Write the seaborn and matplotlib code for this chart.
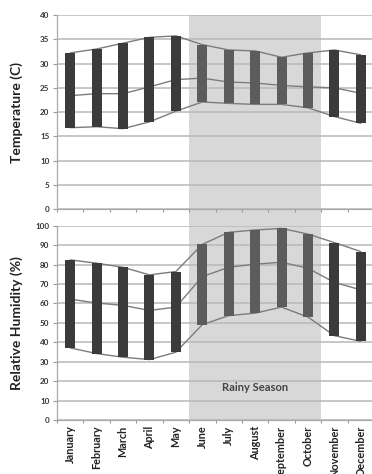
import numpy as np
import pandas as pd
import matplotlib
matplotlib.use("Agg")
import matplotlib.pyplot as plt
import matplotlib.transforms as mtransforms
from matplotlib.patches import Rectangle
import seaborn as sns

months = ["January", "February", "March", "April", "May", "June", "July",
          "August", "September", "October", "November", "December"]
rainy = [False, False, False, False, False, True, True, True, True, True, False, False]

temp_max = [32.2, 33.0, 34.2, 35.4, 35.7, 33.9, 32.8, 32.6, 31.3, 32.2, 32.8, 31.8]
temp_min = [16.8, 17.0, 16.6, 18.0, 20.2, 22.1, 21.8, 21.6, 21.6, 20.9, 19.1, 17.7]
temp_mean = [23.4, 23.8, 23.8, 25.2, 26.7, 27.0, 26.2, 26.0, 25.5, 25.2, 25.0, 23.9]

rh_max = [82.4, 80.7, 78.6, 74.7, 76.4, 90.4, 96.6, 97.8, 98.6, 95.7, 91.3, 86.7]
rh_min = [37.1, 34.2, 32.3, 31.1, 34.9, 49.1, 53.7, 55.0, 58.1, 53.0, 43.4, 40.5]
rh_mean = [62.2, 60.2, 59.0, 56.4, 58.1, 73.8, 78.6, 80.2, 81.2, 78.1, 70.8, 67.0]

temp_ticks = [0, 5, 10, 15, 20, 25, 30, 35, 40]
rh_ticks = [0, 10, 20, 30, 40, 50, 60, 70, 80, 90, 100]

sns.set_theme(style="white")
plt.rcParams["font.family"] = ["Lato", "DejaVu Sans"]

W, H = 372, 474
fig = plt.figure(figsize=(W / 100, H / 100), dpi=100)
left = 57 / W
width = 317 / W
ax1 = fig.add_axes([left, 1 - 209.3 / H, width, (209.3 - 15) / H])
ax2 = fig.add_axes([left, 1 - 420 / H, width, (420 - 225.7) / H])

DRY = "#3b3b3b"
WET = "#5c5c5c"
GRID = "#b8b8b8"
LINE = "#7c7c7c"
SHADE = "#d8d8d8"

pos = np.arange(len(months))
colors = [WET if r else DRY for r in rainy]


def panel(ax, hi, lo, mean, ticks, ylabel):
    ax.set_facecolor("none")
    df = pd.DataFrame({"month": months, "span": np.array(hi) - np.array(lo),
                       "pos": pos, "hi": hi, "lo": lo, "mean": mean})
    sns.barplot(data=df, x="month", y="span", order=months, color=DRY,
                ax=ax, width=0.38, bottom=df["lo"].values, saturation=1,
                linewidth=0, zorder=3, errorbar=None)
    for patch, c in zip(ax.patches, colors):
        patch.set_facecolor(c)
    for col in ["hi", "lo", "mean"]:
        sns.lineplot(data=df, x="pos", y=col, ax=ax, color=LINE, lw=1.0,
                     zorder=2, legend=False)
    ax.set_xlim(-0.5, len(months) - 0.5)
    ax.set_ylim(ticks[0], ticks[-1])
    ax.set_yticks(ticks)
    ax.set_yticklabels([str(t) for t in ticks], fontsize=5.8,
                       color="#333333", fontweight="bold")
    ax.yaxis.grid(True, color=GRID, lw=1.1, zorder=0.5)
    ax.set_axisbelow(True)
    ax.set_xticks(np.arange(-0.5, len(months)), minor=True)
    ax.tick_params(axis="x", which="minor", length=2.5, width=0.8,
                   color="#999999", direction="out", bottom=True)
    ax.tick_params(axis="x", which="major", length=0)
    ax.tick_params(axis="y", length=3, width=0.8, color="#999999",
                   direction="out", left=True, pad=2.5)
    for s in ["top", "right"]:
        ax.spines[s].set_visible(False)
    for s in ["left", "bottom"]:
        ax.spines[s].set_color("#aaaaaa")
        ax.spines[s].set_linewidth(0.9)
    ax.set_ylabel(ylabel, fontsize=10, color="#222222", fontweight="bold")
    ax.set_xlabel("")


panel(ax1, temp_max, temp_min, temp_mean, temp_ticks, "Temperature (C)")
panel(ax2, rh_max, rh_min, rh_mean, rh_ticks, "Relative Humidity (%)")

ax1.set_xticks(pos)
ax1.set_xticklabels([])
ax2.set_xticks(pos)
ax2.set_xticklabels(months, rotation=90, fontsize=7.8, color="#222222",
                    fontweight="bold", va="top", ha="center")
ax2.tick_params(axis="x", which="major", pad=4)

ax1.yaxis.set_label_coords(-0.107, 0.5)
ax2.yaxis.set_label_coords(-0.107, 0.5)

ax2.text(7.0, 16.5, "Rainy Season", ha="center", va="center", fontsize=8,
         color="#444444", fontweight="bold", zorder=4)

# rainy-season shading spanning both panels
trans = mtransforms.blended_transform_factory(ax1.transData, fig.transFigure)
rect = Rectangle((4.5, 1 - 420 / H), 5, (420 - 15) / H, transform=trans,
                 facecolor=SHADE, edgecolor="none", zorder=-1)
fig.add_artist(rect)

fig.savefig("out.png", dpi=100, facecolor="white")
